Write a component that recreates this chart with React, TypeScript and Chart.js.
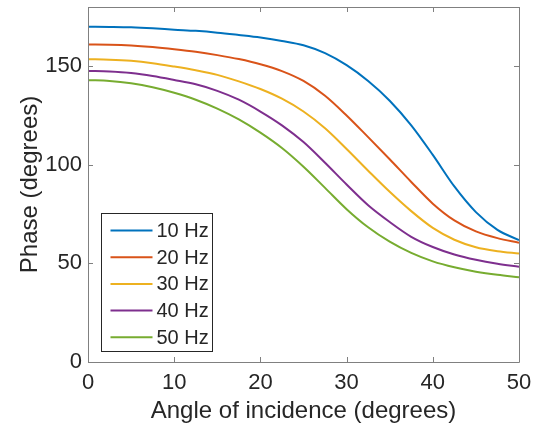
import React, { useEffect, useRef } from 'react';
import { Chart, registerables } from 'chart.js';

Chart.register(...registerables);

// Angle of incidence (degrees)
const angles = [0, 2.5, 5, 7.5, 10, 12.5, 15, 17.5, 20, 22.5, 25, 27.5, 30, 32.5, 35, 37.5, 40, 42.5, 45, 47.5, 50];

// Phase (degrees) per frequency
const phase10Hz = [170.0, 169.9, 169.7, 169.2, 168.5, 167.9, 167.0, 165.8, 164.5, 162.8, 160.6, 156.6, 150.5, 142.5, 132.5, 120.0, 105.0, 89.0, 76.0, 67.0, 61.8];
const phase20Hz = [161.0, 160.9, 160.5, 159.7, 158.6, 157.3, 155.6, 153.6, 151.0, 147.5, 142.5, 135.0, 125.0, 114.0, 102.8, 91.3, 80.3, 71.8, 66.2, 62.8, 60.5];
const phase30Hz = [153.5, 153.3, 152.7, 151.5, 149.8, 147.9, 145.6, 142.3, 138.4, 133.5, 127.0, 118.5, 108.0, 97.0, 86.3, 76.5, 68.0, 62.0, 58.2, 56.2, 55.0];
const phase40Hz = [147.6, 147.3, 146.5, 145.0, 143.0, 140.8, 137.5, 133.0, 127.0, 120.0, 111.5, 101.0, 90.0, 79.5, 71.0, 63.5, 58.3, 54.5, 51.8, 49.8, 48.3];
const phase50Hz = [142.9, 142.5, 141.3, 139.3, 136.5, 133.0, 128.5, 123.0, 116.3, 108.5, 99.0, 88.3, 77.5, 68.3, 61.0, 55.3, 51.0, 48.0, 45.8, 44.2, 43.0];

const seriesLabels = ['10 Hz', '20 Hz', '30 Hz', '40 Hz', '50 Hz'];
const seriesValues = [phase10Hz, phase20Hz, phase30Hz, phase40Hz, phase50Hz];
const seriesColors = ['#0072BD', '#D95319', '#EDB120', '#7E2F8E', '#77AC30'];

const xTitle = 'Angle of incidence (degrees)';
const yTitle = 'Phase (degrees)';
const xMin = 0;
const xMax = 50;
const xStep = 10;
const yMin = 0;
const yMax = 180;
const yStep = 50;

const FONT = '"Liberation Sans", Arial, Helvetica, sans-serif';
const TEXT_COLOR = '#262626';
const AXIS_COLOR = '#808080';

const framePlugin = {
  id: 'matlabFrame',
  afterDraw(chart: any) {
    const { ctx, chartArea } = chart;
    const { left, right, top, bottom } = chartArea;
    const xs = chart.scales.x;
    const ys = chart.scales.y;
    const tl = 5;
    ctx.save();
    ctx.strokeStyle = AXIS_COLOR;
    ctx.lineWidth = 1;
    ctx.beginPath();
    ctx.rect(Math.round(left) + 0.5, Math.round(top) + 0.5, Math.round(right - left), Math.round(bottom - top));
    ctx.stroke();
    ctx.beginPath();
    xs.ticks.forEach((t: any) => {
      const px = Math.round(xs.getPixelForValue(t.value)) + 0.5;
      ctx.moveTo(px, bottom);
      ctx.lineTo(px, bottom - tl);
      ctx.moveTo(px, top);
      ctx.lineTo(px, top + tl);
    });
    ys.ticks.forEach((t: any) => {
      const py = Math.round(ys.getPixelForValue(t.value)) + 0.5;
      ctx.moveTo(left, py);
      ctx.lineTo(left + tl, py);
      ctx.moveTo(right, py);
      ctx.lineTo(right - tl, py);
    });
    ctx.stroke();

    // legend box (inside, lower-left)
    const bx = Math.round(left + 13) + 0.5;
    const by = Math.round(top + 206) + 0.5;
    const bw = 111;
    const bh = 138;
    ctx.fillStyle = '#ffffff';
    ctx.fillRect(bx, by, bw, bh);
    ctx.strokeStyle = '#262626';
    ctx.lineWidth = 1;
    ctx.strokeRect(bx, by, bw, bh);
    ctx.font = `20px ${FONT}`;
    ctx.textBaseline = 'middle';
    ctx.textAlign = 'left';
    chart.data.datasets.forEach((ds: any, i: number) => {
      const ry = by + 17 + i * 26.7;
      ctx.strokeStyle = ds.borderColor;
      ctx.lineWidth = 2;
      ctx.beginPath();
      ctx.moveTo(bx + 9, ry);
      ctx.lineTo(bx + 51, ry);
      ctx.stroke();
      ctx.fillStyle = TEXT_COLOR;
      ctx.fillText(ds.label, bx + 55, ry + 1);
    });
    ctx.restore();
  },
};

function zeroPadding(scale: any) {
  scale.paddingTop = 0;
  scale.paddingBottom = 0;
  scale.paddingLeft = 0;
  scale.paddingRight = 0;
}

export default function App() {
  const ref = useRef<HTMLCanvasElement | null>(null);

  useEffect(() => {
    if (!ref.current) return;
    const chart = new Chart(ref.current, {
      type: 'line',
      data: {
        datasets: seriesLabels.map((label, i) => ({
          label,
          data: angles.map((a, j) => ({ x: a, y: seriesValues[i][j] })),
          borderColor: seriesColors[i],
          backgroundColor: seriesColors[i],
          borderWidth: 2,
          pointRadius: 0,
          fill: false,
          cubicInterpolationMode: 'monotone' as const,
          order: seriesLabels.length - i,
        })),
      },
      options: {
        responsive: false,
        animation: false,
        layout: { padding: { top: 7, right: 18, left: 0, bottom: 0 } },
        plugins: {
          legend: { display: false },
          tooltip: { enabled: false },
        },
        scales: {
          x: {
            type: 'linear',
            min: xMin,
            max: xMax,
            grid: { display: false, drawTicks: false },
            border: { display: false },
            ticks: {
              stepSize: xStep,
              autoSkip: false,
              maxRotation: 0,
              padding: 8,
              color: TEXT_COLOR,
              font: { family: FONT, size: 22 },
            },
            title: {
              display: true,
              text: xTitle,
              color: TEXT_COLOR,
              font: { family: FONT, size: 24 },
              padding: { top: 0, bottom: 8 },
            },
            afterFit(scale: any) {
              scale.height = 72;
              zeroPadding(scale);
            },
          },
          y: {
            type: 'linear',
            min: yMin,
            max: yMax,
            grid: { display: false, drawTicks: false },
            border: { display: false },
            ticks: {
              stepSize: yStep,
              includeBounds: false,
              autoSkip: false,
              padding: 6,
              color: TEXT_COLOR,
              font: { family: FONT, size: 22 },
            },
            title: {
              display: true,
              text: yTitle,
              color: TEXT_COLOR,
              font: { family: FONT, size: 24 },
              padding: { top: 16, bottom: 0 },
            },
            afterFit(scale: any) {
              scale.width = 88;
              zeroPadding(scale);
            },
          },
        },
      },
      plugins: [framePlugin],
    });
    return () => chart.destroy();
  }, []);

  return (
    <div style={{ position: 'fixed', left: 0, top: 0, width: 537, height: 434, background: '#fff' }}>
      <canvas ref={ref} width={537} height={434} />
    </div>
  );
}
